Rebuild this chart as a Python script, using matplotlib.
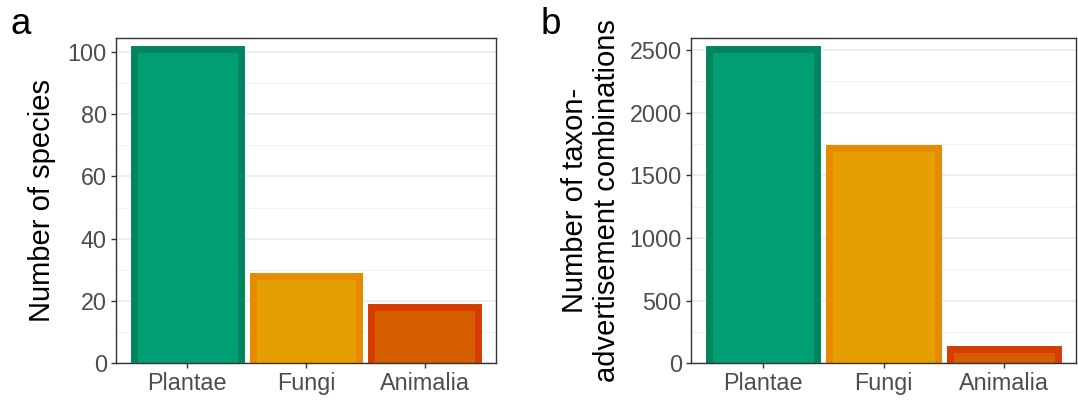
import matplotlib
matplotlib.use("Agg")
import matplotlib.pyplot as plt
from matplotlib.ticker import MultipleLocator

plt.rcParams['font.family'] = ['Liberation Sans', 'DejaVu Sans']

categories = ["Plantae", "Fungi", "Animalia"]
species_counts = [101, 28, 18]
combination_counts = [2510, 1718, 118]
fill_colors = ["#009E73", "#E69F00", "#D55E00"]
edge_colors = ["#00855F", "#E68A00", "#D63C00"]

W, H = 1078, 403
fig = plt.figure(figsize=(W / 100, H / 100), dpi=100)

def px_axes(left, right, top, bottom):
    return fig.add_axes([left / W, (H - bottom) / H, (right - left) / W, (bottom - top) / H])

ax_a = px_axes(116, 496, 38, 363.3)
ax_b = px_axes(691, 1076, 37.7, 363.3)

BAR_W = 0.9

def style(ax, values, ymax, major, minor, ylabel, label_x):
    x = list(range(1, len(categories) + 1))
    ax.bar(x, values, width=BAR_W, color=fill_colors, linewidth=0, zorder=3)
    # outline (left, top, right sides), like ggplot's stroke with the bottom at the axis
    for xi, v, ec in zip(x, values, edge_colors):
        ax.plot([xi - BAR_W / 2, xi - BAR_W / 2, xi + BAR_W / 2, xi + BAR_W / 2],
                [0, v, v, 0], color=ec, linewidth=5.0, solid_joinstyle='miter',
                solid_capstyle='butt', zorder=4)
    ax.set_xlim(0.4, 3.6)
    ax.set_ylim(0, ymax)
    ax.set_xticks(x)
    ax.set_xticklabels(categories)
    ax.yaxis.set_major_locator(MultipleLocator(major))
    ax.yaxis.set_minor_locator(MultipleLocator(minor))
    ax.grid(axis='y', which='major', color='#EBEBEB', linewidth=1.2, zorder=0)
    ax.grid(axis='y', which='minor', color='#EFEFEF', linewidth=0.6, zorder=0)
    ax.set_axisbelow(True)
    for s in ax.spines.values():
        s.set_color('#333333')
        s.set_linewidth(1.0)
        s.set_zorder(5)
    ax.tick_params(axis='both', which='major', length=3.6, width=1.0, color='#333333',
                   labelcolor='#4D4D4D', labelsize=16.8, pad=3.0)
    ax.tick_params(axis='y', which='minor', length=0)
    ax.set_ylabel(ylabel, fontsize=21, color='black', va='center', ha='center')
    ax.yaxis.set_label_coords(label_x, 0.5)

style(ax_a, species_counts, 104.4, 20, 10, "Number of species", (42 - 116) / 380)
style(ax_b, combination_counts, 2598, 500, 250,
      "Number of taxon-\nadvertisement combinations", (591 - 691) / 385)

fig.text(11 / W, (H - 34) / H, "a", fontsize=26.5, ha='left', va='baseline')
fig.text(541 / W, (H - 34) / H, "b", fontsize=26.5, ha='left', va='baseline')

fig.savefig("out.png", dpi=100)
